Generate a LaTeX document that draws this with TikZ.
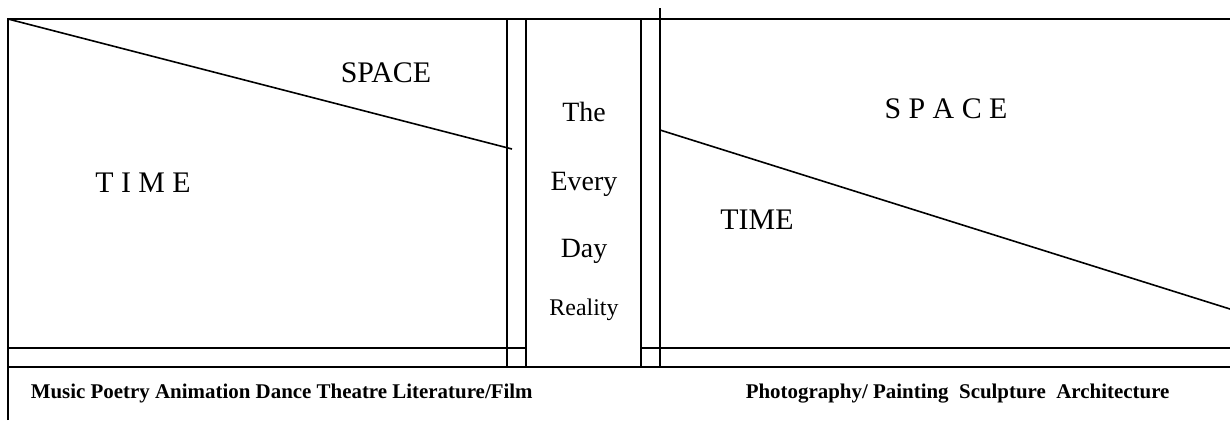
\documentclass[tikz,border=0pt]{standalone}
\usepackage{fontspec}
\setmainfont{Liberation Serif}
\begin{document}
\begin{tikzpicture}[x=1bp,y=-1bp,line width=1.6bp,every node/.style={inner sep=0pt,anchor=base},word/.style={font=\fontsize{30}{34}\selectfont},mid/.style={font=\fontsize{28}{32}\selectfont},media/.style={font=\bfseries\fontsize{21}{25}\selectfont,anchor=base west}]
\useasboundingbox (0,0) rectangle (1230,420);
% frame and columns
\draw (8,420) -- (8,19) -- (1230,19);
\draw (507,19) -- (507,367);
\draw (526,19) -- (526,367);
\draw (641,19) -- (641,367);
\draw (660,8) -- (660,367);
\draw (8,348) -- (526,348);
\draw (641,348) -- (1230,348);
\draw (8,367) -- (1230,367);
% diagonals
\coordinate (lstart) at (8,19);
\coordinate (lend) at (512,149);
\coordinate (rstart) at (660,130);
\coordinate (rend) at (1230,309);
\draw (lstart) -- (lend);
\draw (rstart) -- (rend);
% left side
\node[word] (lspace) at (386,82) {SPACE};
\node[word] (ltime) at (143,192) {T I M E};
% middle
\node[mid] (the) at (584,121) {The};
\node[mid] (every) at (584,190) {Every};
\node[mid] (day) at (584,257) {Day};
\node[mid,font=\fontsize{24}{28}\selectfont] (reality) at (584,315) {Reality};
% right side
\node[word] (rspace) at (946,118) {S P A C E};
\node[word] (rtime) at (757,229) {TIME};
% media
\node[media] (timearts) at (30,398) {Music Poetry Animation Dance Theatre Literature/Film};
\node[media] (spacearts) at (745,398) {Photography/ Painting\ \ Sculpture\ \ Architecture};
\end{tikzpicture}
\end{document}
